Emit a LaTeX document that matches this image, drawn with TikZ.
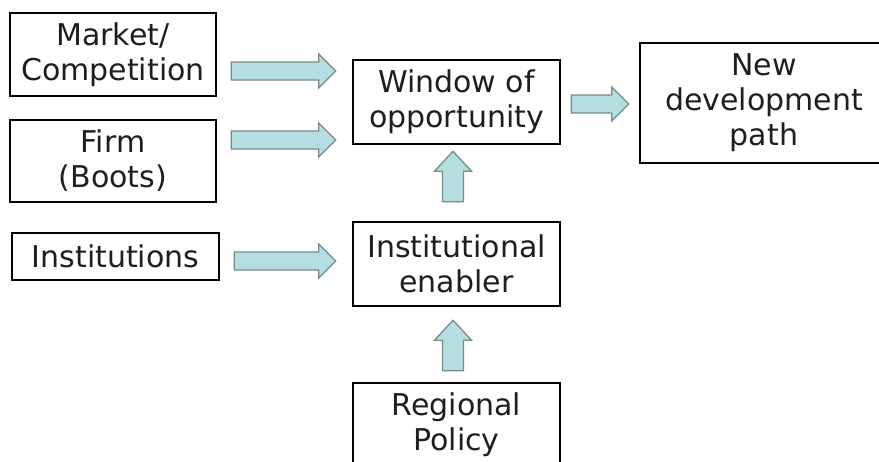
\documentclass[tikz,border=0pt]{standalone}
\usepackage{fontspec}
\setmainfont{DejaVu Sans}
\usetikzlibrary{calc}
\definecolor{arrowfill}{RGB}{180,222,226}
\definecolor{arrowline}{RGB}{120,138,140}
\definecolor{boxtext}{RGB}{30,30,30}
\tikzset{
    box/.style={draw=black, line width=2.5pt, align=center, inner sep=0pt, text=boxtext,
        font=\fontsize{30}{35}\selectfont},
    fatarr/.style={draw=arrowline, fill=arrowfill, line width=1.3pt, line join=miter}
}
\newcommand{\harrow}[2]{%
    \draw[fatarr] let \p1=(#1), \p2=(#2) in
        (\x1,{\y1+9pt}) -- ({\x2-17pt},{\y1+9pt}) -- ({\x2-17pt},{\y1+17pt}) -- (\x2,\y1)
        -- ({\x2-17pt},{\y1-17pt}) -- ({\x2-17pt},{\y1-9pt}) -- (\x1,{\y1-9pt}) -- cycle;}
\newcommand{\varrow}[2]{%
    \draw[fatarr] let \p1=(#1), \p2=(#2) in
        ({\x1-10.5pt},\y1) -- ({\x1-10.5pt},{\y2-20pt}) -- ({\x1-18.5pt},{\y2-20pt}) -- (\x1,\y2)
        -- ({\x1+18.5pt},{\y2-20pt}) -- ({\x1+10.5pt},{\y2-20pt}) -- ({\x1+10.5pt},\y1) -- cycle;}
\begin{document}
\begin{tikzpicture}[x=1pt, y=-1pt]
    \clip (0,0) rectangle (879,461);
    \node[box, minimum width=206pt, minimum height=83pt] (market) at (113,54.5) {Market/\\Competition};
    \node[box, minimum width=206pt, minimum height=82pt] (firm) at (113,161) {Firm\\(Boots)};
    \node[box, minimum width=207pt, minimum height=47pt] (inst) at (115.5,256.5) {Institutions};
    \node[box, minimum width=207pt, minimum height=84pt] (window) at (456.5,102) {Window of\\opportunity};
    \node[box, minimum width=207pt, minimum height=84pt] (enabler) at (456.5,264) {Institutional\\enabler};
    \node[box, minimum width=207pt, minimum height=84pt] (policy) at (456.5,425) {Regional\\Policy};
    \node[box, minimum width=248pt, minimum height=120pt] (newdev) at (764,103) {New\\development\\path};

    \harrow{$(market.east)+(14,16.5)$}{$(window.west |- market.east)+(-16,16.5)$}
    \harrow{$(firm.east)+(14,-21)$}{$(window.west |- firm.east)+(-16,-21)$}
    \harrow{$(inst.east)+(14,4.5)$}{$(enabler.west |- inst.east)+(-16,4.5)$}
    \harrow{$(window.east)+(10,2)$}{$(newdev.west |- window.east)+(-10,2)$}
    \varrow{$(enabler.north)+(-3.5,-19)$}{$(window.south)+(-3.5,6)$}
    \varrow{$(policy.north)+(-3.5,-11)$}{$(enabler.south)+(-3.5,13)$}
\end{tikzpicture}
\end{document}
